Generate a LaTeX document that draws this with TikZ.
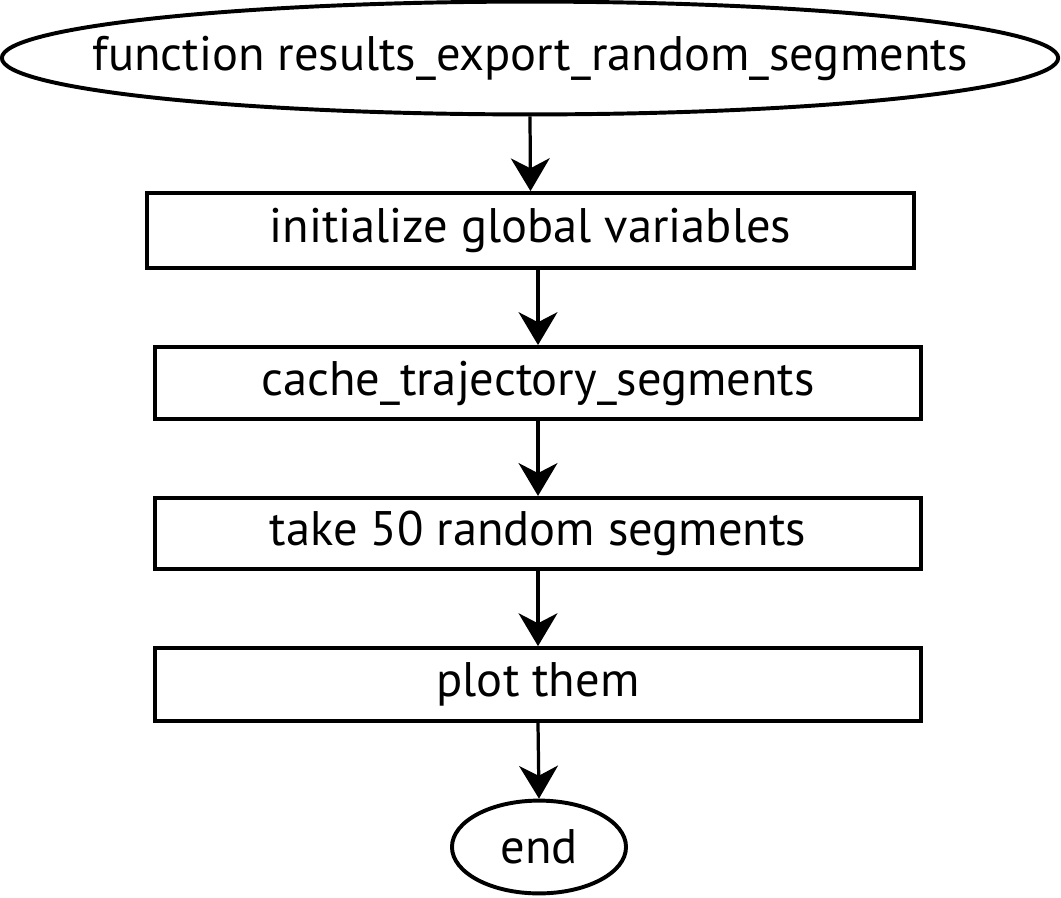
\documentclass[tikz,border=0pt]{standalone}
\usepackage{fontspec}
\setmainfont{PT Sans}
\usetikzlibrary{arrows.meta,shapes.geometric}

\begin{document}
\begin{tikzpicture}[x=0.025cm,y=-0.025cm,line width=2.8pt,>={Stealth[length=0.82cm,width=0.97cm,inset=0.25cm]},
  every node/.style={font=\fontsize{34.5}{40}\selectfont,inner sep=0pt},
  terminal/.style={draw,ellipse},
  stepbox/.style={draw,rectangle,minimum width=19.15cm},
  flow/.style={->,line width=2.3pt}]
\useasboundingbox (0,0) rectangle (1061,897);
% ---------- start / end (outline first, text on top) ----------
\node[terminal,minimum width=26.4cm,minimum height=2.82cm] (start) at (530,58) {};
\node (starttext) at (start.center) {function results\_export\_random\_segments};
\node[terminal,minimum width=4.35cm,minimum height=2.32cm] (stop) at (539,847) {};
\node (stoptext) at (stop.center) {end};
% ---------- steps ----------
\node[stepbox,minimum height=1.87cm] (init) at (530.5,230.5) {initialize global variables};
\node[stepbox,minimum height=1.8cm] (cache) at (538,383) {cache\_trajectory\_segments};
\node[stepbox,minimum height=1.78cm] (take) at (538,533.5) {take 50 random segments};
\node[stepbox,minimum height=1.82cm] (plot) at (538,684.5) {plot them};
% ---------- arrows ----------
\draw[flow] (start.south) -- (init.north);
\draw[flow] (init.south -| cache.north) -- (cache.north);
\draw[flow] (cache.south) -- (take.north);
\draw[flow] (take.south) -- (plot.north);
\draw[flow] (plot.south) -- (stop.north);
\end{tikzpicture}
\end{document}
